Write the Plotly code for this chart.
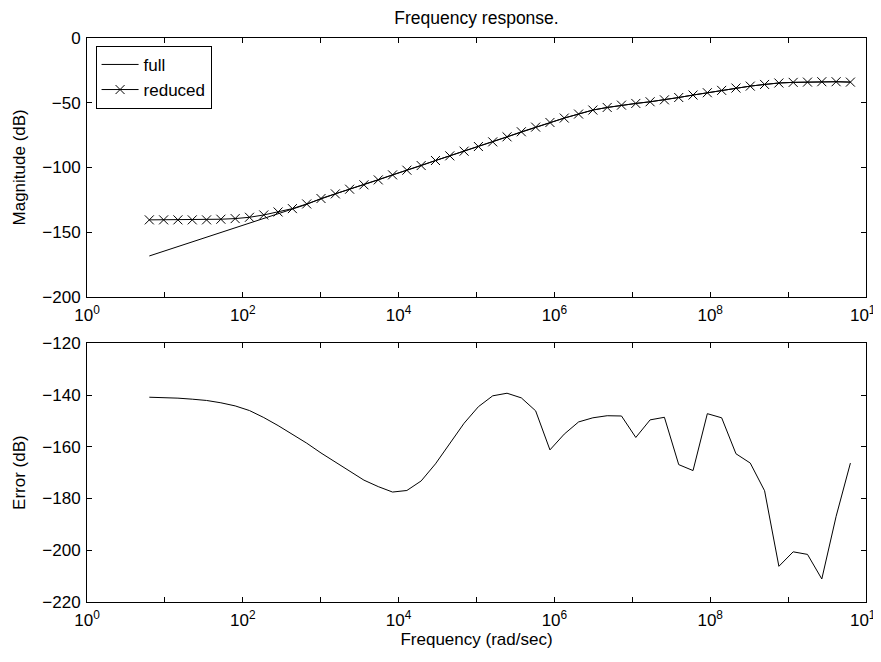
import plotly.graph_objects as go

# Frequencies (rad/sec) of the 50 evaluation points
freq = [6.31, 9.63, 14.70, 22.44, 34.25, 52.28, 79.80, 121.8, 185.9, 283.8,
        433.2, 661.3, 1009, 1541, 2352, 3591, 5481, 8363, 12770, 19490,
        29750, 45410, 69310, 105800, 161500, 246500, 376300, 574400, 876800, 1338000,
        2043000, 3118000, 4760000, 7265000, 1.109e7, 1.693e7, 2.584e7, 3.944e7, 6.021e7, 9.190e7,
        1.403e8, 2.141e8, 3.268e8, 4.989e8, 7.614e8, 1.162e9, 1.774e9, 2.708e9, 4.133e9, 6.310e9]

mag_full = [-168.5, -164.9, -161.3, -157.7, -154.1, -150.5, -146.9, -143.3, -139.7, -136.1,
            -132.4, -128.6, -124.1, -120.5, -116.9, -113.5, -109.7, -105.8, -102.2, -98.6,
            -94.7, -91.1, -87.5, -83.9, -80.3, -76.4, -72.5, -68.9, -65.3, -61.9,
            -58.8, -55.7, -53.7, -51.9, -50.6, -49.3, -47.8, -46.0, -44.1, -42.3,
            -40.5, -38.7, -37.2, -35.9, -34.8, -34.3, -34.1, -33.8, -33.8, -34.1]

mag_reduced = [-140.6, -140.6, -140.6, -140.6, -140.6, -140.1, -139.6, -138.6, -136.8, -134.5,
               -131.9, -128.3, -124.1, -120.5, -116.9, -113.5, -109.7, -105.8, -102.2, -98.6,
               -94.7, -91.1, -87.5, -83.9, -80.3, -76.4, -72.5, -68.9, -65.3, -61.9,
               -58.8, -55.7, -53.7, -51.9, -50.6, -49.3, -47.8, -46.0, -44.1, -42.3,
               -40.5, -38.7, -37.2, -35.9, -34.8, -34.3, -34.1, -33.8, -33.8, -34.1]

error_db = [-140.85, -141.0, -141.2, -141.6, -142.1, -143.0, -144.2, -146.0, -148.7, -151.8,
            -155.1, -158.6, -162.4, -165.9, -169.6, -172.9, -175.4, -177.5, -176.9, -173.2,
            -166.6, -158.6, -150.9, -144.5, -140.3, -139.3, -141.1, -146.1, -161.2, -155.1,
            -150.4, -148.8, -148.0, -148.1, -156.4, -149.6, -148.6, -166.9, -169.2, -147.2,
            -148.8, -162.7, -166.3, -177.0, -206.2, -200.6, -201.6, -211.1, -186.9, -166.3]

x_tickvals = [1, 10, 100, 1e3, 1e4, 1e5, 1e6, 1e7, 1e8, 1e9, 1e10]
x_ticktext = ['10<sup>0</sup>', '', '10<sup>2</sup>', '', '10<sup>4</sup>', '',
              '10<sup>6</sup>', '', '10<sup>8</sup>', '', '10<sup>10</sup>']
mag_ticks = [0, -50, -100, -150, -200]
err_ticks = [-120, -140, -160, -180, -200, -220]

FONT = "Liberation Sans, Arial, Helvetica, sans-serif"

fig = go.Figure()
fig.add_trace(go.Scatter(x=freq, y=mag_full, mode='lines', name='full',
                         line=dict(color='black', width=1),
                         xaxis='x', yaxis='y'))
fig.add_trace(go.Scatter(x=freq, y=mag_reduced, mode='lines+markers', name='reduced',
                         line=dict(color='black', width=1),
                         marker=dict(symbol='x-thin', size=9,
                                     line=dict(color='black', width=1)),
                         xaxis='x', yaxis='y'))
fig.add_trace(go.Scatter(x=freq, y=error_db, mode='lines', showlegend=False,
                         line=dict(color='black', width=1),
                         xaxis='x2', yaxis='y2'))

axis_common = dict(showline=True, linecolor='black', linewidth=1, mirror='ticks',
                   ticks='inside', ticklen=5, tickcolor='black', tickwidth=1,
                   showgrid=False, zeroline=False, automargin=False,
                   ticklabeloverflow='allow',
                   tickfont=dict(family=FONT, size=17, color='black'))
x_extra = dict(ticklabelstandoff=3)
y_extra = dict(ticklabelstandoff=2)

# The page body adds an 8 px offset; the figure size and margins absorb it.
fig.update_layout(
    width=873, height=654,
    margin=dict(l=79, r=15, t=30, b=60, autoexpand=False),
    paper_bgcolor='white', plot_bgcolor='white',
    font=dict(family=FONT, size=17, color='black'),
    title=dict(text='Frequency response.', x=0.5, xref='paper', xanchor='center',
               y=1 - 10 / 654, yref='container', yanchor='middle', automargin=False,
               font=dict(family=FONT, size=17.5, color='black')),
    xaxis=dict(type='log', range=[0, 10], domain=[0, 1], anchor='y',
               tickmode='array', tickvals=x_tickvals, ticktext=x_ticktext,
               **axis_common, **x_extra),
    yaxis=dict(range=[-200, 0], domain=[0.5413, 1], anchor='x',
               tickmode='array', tickvals=mag_ticks,
               title=dict(text='Magnitude (dB)', standoff=12,
                          font=dict(family=FONT, size=17)),
               **axis_common, **y_extra),
    xaxis2=dict(type='log', range=[0, 10], domain=[0, 1], anchor='y2',
                tickmode='array', tickvals=x_tickvals, ticktext=x_ticktext,
                title=dict(text='Frequency (rad/sec)', standoff=0,
                           font=dict(family=FONT, size=17)),
                **axis_common, **x_extra),
    yaxis2=dict(range=[-220, -120], domain=[0, 0.4587], anchor='x2',
                tickmode='array', tickvals=err_ticks,
                title=dict(text='Error (dB)', standoff=12,
                           font=dict(family=FONT, size=17)),
                **axis_common, **y_extra),
    legend=dict(x=0.011, y=0.986, xanchor='left', yanchor='top',
                bgcolor='white', bordercolor='black', borderwidth=1,
                font=dict(family=FONT, size=17, color='black'),
                itemwidth=37, tracegroupgap=0),
    showlegend=True,
)

fig.write_html("out.html")
